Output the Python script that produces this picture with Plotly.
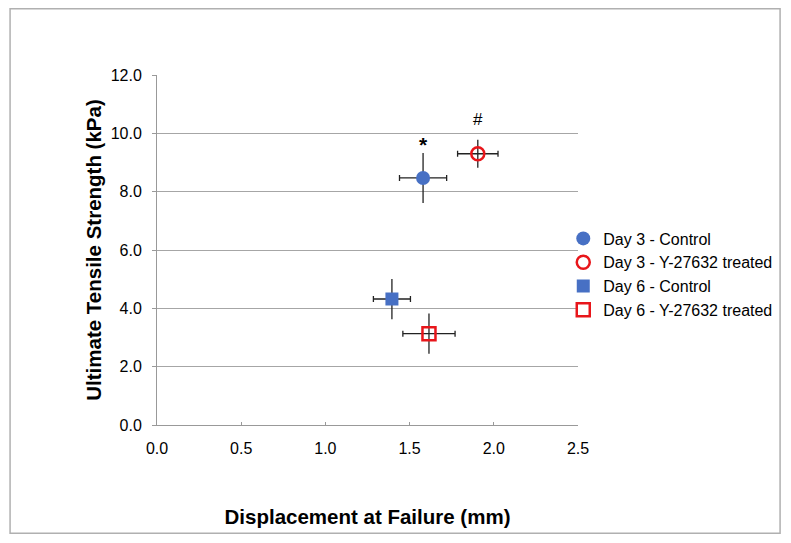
import plotly.graph_objects as go

names = ["Day 3 - Control", "Day 3 - Y-27632 treated", "Day 6 - Control", "Day 6 - Y-27632 treated"]
x_disp = [1.58, 1.905, 1.395, 1.615]
x_err = [0.14, 0.12, 0.11, 0.155]
y_uts = [8.47, 9.30, 4.32, 3.13]
y_err = [0.86, 0.48, 0.69, 0.69]
symbols = ["circle", "circle-open", "square", "square-open"]
colors = ["#4770C4", "#E8161B", "#4770C4", "#E8161B"]
sizes = [14, 13, 13, 13]
marks = [("<b>*</b>", 1.58, 9.62, 21), ("#", 1.905, 10.46, 17)]

fig = go.Figure()
for i in range(4):
    fig.add_trace(go.Scatter(
        x=[x_disp[i]], y=[y_uts[i]], name=names[i], mode="markers",
        marker=dict(symbol=symbols[i], color=colors[i], size=sizes[i],
                    line=dict(width=2.5 if "open" in symbols[i] else 0, color=colors[i])),
        error_x=dict(type="data", array=[x_err[i]], color="#222", thickness=1.3, width=3),
        error_y=dict(type="data", array=[y_err[i]], color="#222", thickness=1.3, width=0),
    ))

for txt, xx, yy, fs in marks:
    fig.add_annotation(x=xx, y=yy, text=txt, showarrow=False,
                       font=dict(size=fs, color="black", family="Liberation Sans"))

fig.add_shape(type="rect", xref="paper", yref="paper", x0=-0.349, x1=1.480, y0=-0.309, y1=1.189,
              line=dict(color="#b0b0b0", width=1.5), fillcolor="rgba(0,0,0,0)", layer="below")

fig.update_layout(
    width=791, height=543,
    margin=dict(l=149, r=221, t=67, b=126),
    paper_bgcolor="white", plot_bgcolor="white",
    font=dict(family="Liberation Sans, Arial, sans-serif", size=16, color="black"),
    showlegend=True,
    legend=dict(x=0.965, y=0.43, xanchor="left", yanchor="middle",
                font=dict(size=16), itemwidth=30, tracegroupgap=0,
                bgcolor="rgba(0,0,0,0)"),
    xaxis=dict(range=[0, 2.5], tickvals=[0, 0.5, 1.0, 1.5, 2.0, 2.5], tickformat=".1f",
               showgrid=False, showline=True, linecolor="#999", linewidth=1,
               ticks="inside", ticklen=3, tickcolor="#999", zeroline=False,
               ticklabelstandoff=9,
               title=dict(text="<b>Displacement at Failure (mm)</b>", font=dict(size=20.5), standoff=53)),
    yaxis=dict(range=[0, 12], tickvals=[0, 2, 4, 6, 8, 10, 12], tickformat=".1f",
               showgrid=True, gridcolor="#a6a6a6", gridwidth=1,
               showline=True, linecolor="#999", linewidth=1,
               ticks="outside", ticklen=4, tickcolor="#999", zeroline=False,
               ticklabelstandoff=7,
               title=dict(text="<b>Ultimate Tensile Strength (kPa)</b>", font=dict(size=20.5), standoff=3)),
)

fig.write_html("out.html")
